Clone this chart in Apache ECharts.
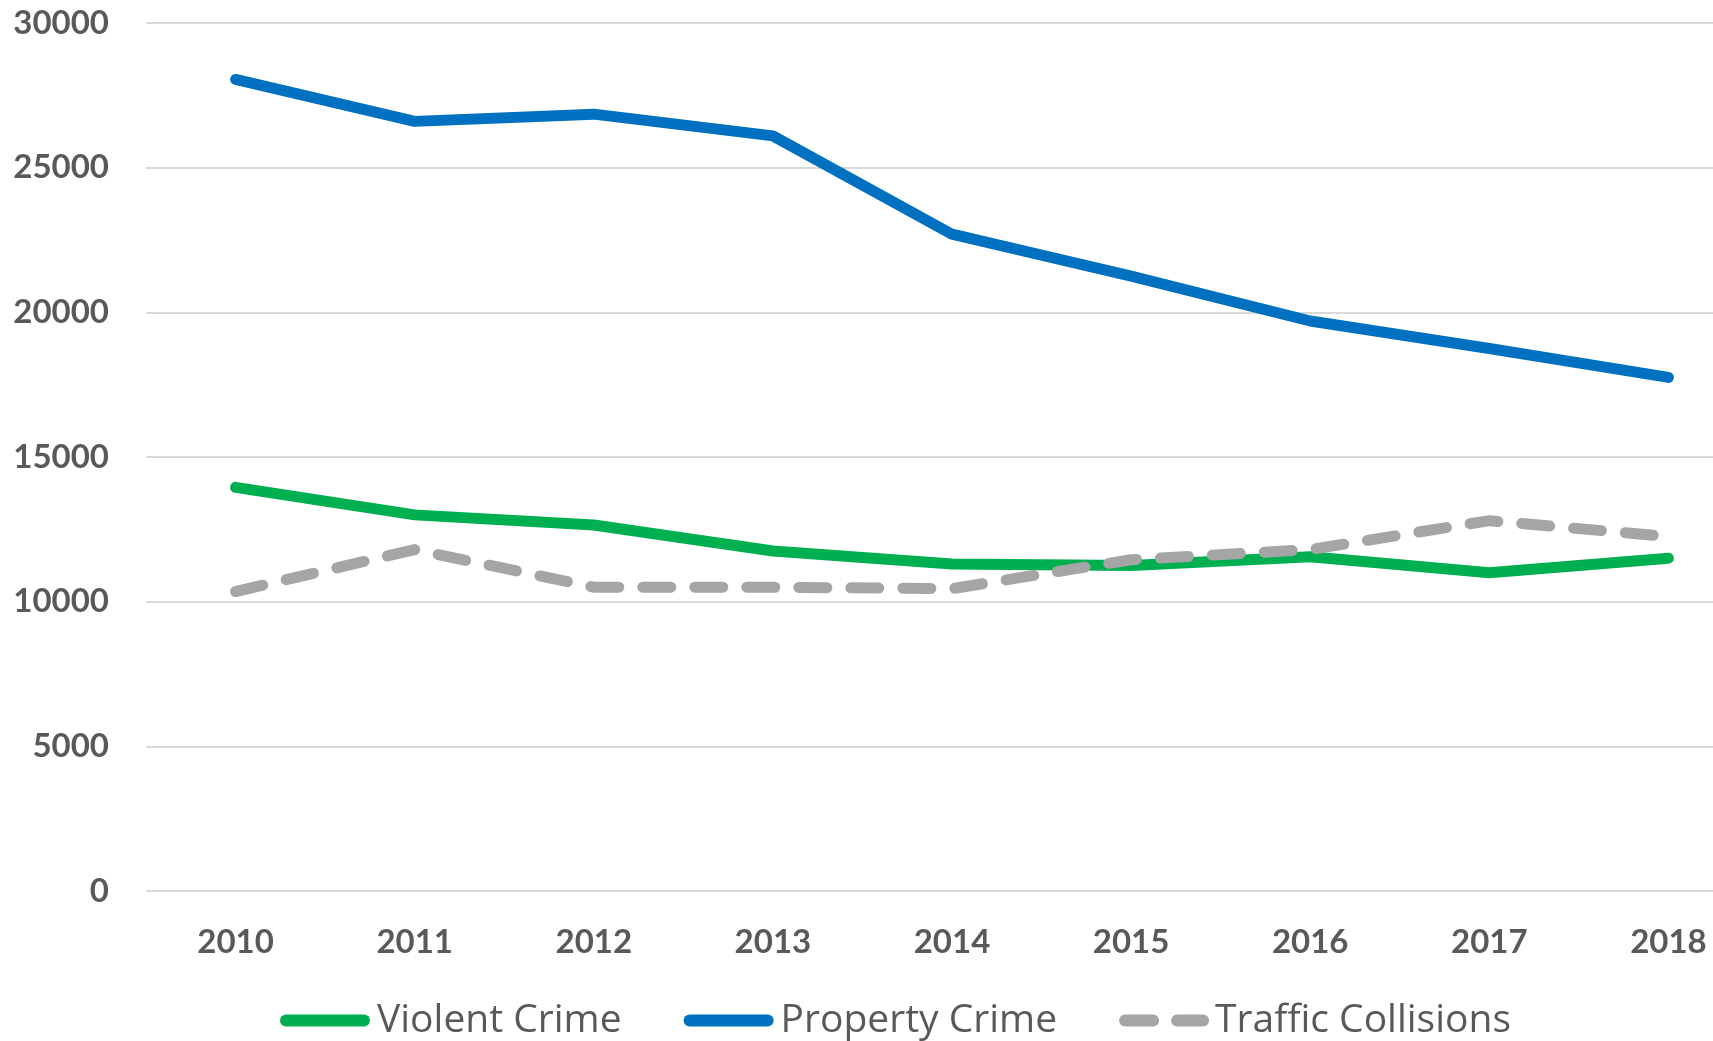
<!DOCTYPE html>
<html>
<head>
<meta charset="utf-8">
<title>Crime and Collisions</title>
<script src="https://cdn.jsdelivr.net/npm/echarts@6/dist/echarts.min.js"></script>
<style>
    html, body { margin: 0; padding: 0; background: #fff; }
    #chart { width: 1713px; height: 1041px; }
</style>
</head>
<body>
<div id="chart"></div>
<script>
    // data
    var years = ['2010', '2011', '2012', '2013', '2014', '2015', '2016', '2017', '2018'];
    var violentCrime = [13950, 13000, 12650, 11750, 11300, 11250, 11550, 11000, 11500];
    var propertyCrime = [28050, 26600, 26850, 26100, 22700, 21250, 19700, 18750, 17750];
    var trafficCollisions = [10350, 11800, 10500, 10500, 10450, 11450, 11800, 12800, 12250];

    var textColor = '#595959';

    var chart = echarts.init(document.getElementById('chart'));

    var option = {
        animation: false,
        grid: {
            left: 146,
            right: -45,
            top: 23,
            bottom: 150,
            outerBoundsMode: 'none'
        },
        legend: {
            data: [
                { name: 'Violent Crime' },
                { name: 'Property Crime' },
                // hide the circle ECharts puts in the middle of a line icon
                {
                    name: 'Traffic Collisions',
                    itemStyle: { color: 'rgba(0,0,0,0)', opacity: 0 },
                    textStyle: { padding: [0, 0, 0, 7] }
                }
            ],
            left: 275,
            top: 996,
            itemWidth: 78,
            itemHeight: 12,
            itemGap: 62,
            textStyle: {
                fontFamily: 'Open Sans',
                fontSize: 39,
                color: textColor,
                padding: [0, 0, 0, 8]
            },
            lineStyle: {
                width: 12,
                cap: 'round'
            }
        },
        xAxis: {
            type: 'category',
            data: years,
            boundaryGap: true,
            axisLine: { show: false },
            axisTick: { show: false },
            axisLabel: {
                margin: 35,
                fontFamily: 'Lato',
                fontWeight: 'bold',
                fontSize: 33,
                color: textColor
            }
        },
        yAxis: {
            type: 'value',
            min: 0,
            max: 30000,
            interval: 5000,
            axisLine: { show: false },
            axisTick: { show: false },
            axisLabel: {
                margin: 37,
                fontFamily: 'Lato',
                fontWeight: 'bold',
                fontSize: 33,
                color: textColor,
                formatter: function (v) { return String(v); }
            },
            splitLine: {
                lineStyle: { color: '#D9D9D9', width: 2 }
            }
        },
        series: [
            {
                name: 'Violent Crime',
                type: 'line',
                data: violentCrime,
                symbol: 'none',
                color: '#00B050',
                lineStyle: { width: 11, color: '#00B050', cap: 'round', join: 'round' }
            },
            {
                name: 'Property Crime',
                type: 'line',
                data: propertyCrime,
                symbol: 'none',
                color: '#0070C0',
                lineStyle: { width: 11, color: '#0070C0', cap: 'round', join: 'round' }
            },
            {
                name: 'Traffic Collisions',
                type: 'line',
                data: trafficCollisions,
                symbol: 'none',
                color: '#A5A5A5',
                lineStyle: { width: 11, color: '#A5A5A5', type: [28, 24], cap: 'round', join: 'round' }
            }
        ]
    };

    chart.setOption(option);
</script>
</body>
</html>
